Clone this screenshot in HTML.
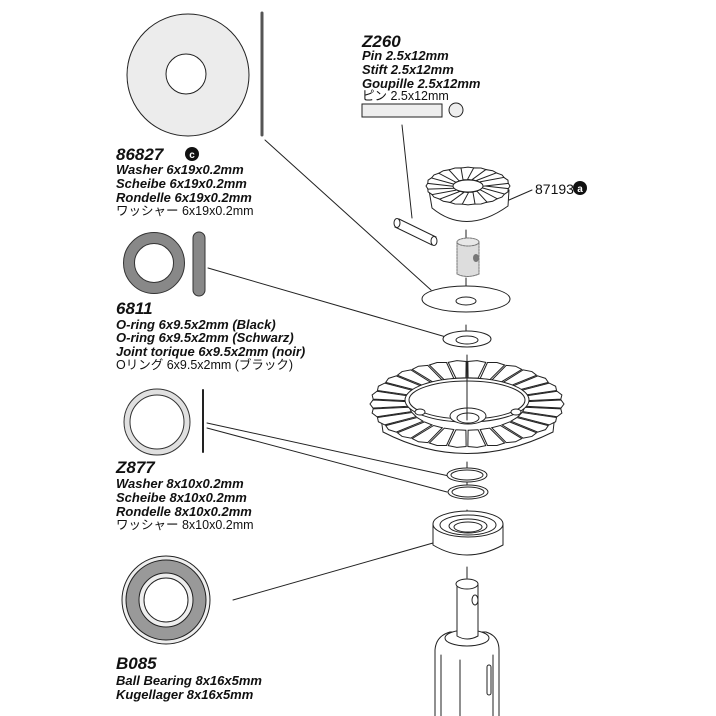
<!DOCTYPE html>
<html><head><meta charset="utf-8"><style>
html,body{margin:0;padding:0;background:#fff;width:716px;height:716px;overflow:hidden}
svg{display:block}
.t{font-family:"Liberation Sans","Noto Sans CJK JP",sans-serif;font-weight:bold;font-style:italic;font-size:13px;fill:#111}
.h{font-family:"Liberation Sans",sans-serif;font-weight:bold;font-style:italic;font-size:17px;fill:#111}
.j{font-family:"Liberation Sans","Noto Sans CJK JP",sans-serif;font-size:12.5px;fill:#111}
</style></head><body>
<svg width="716" height="716" viewBox="0 0 716 716" xmlns="http://www.w3.org/2000/svg" xmlns:xlink="http://www.w3.org/1999/xlink" stroke-linecap="round">
<defs>
<polygon id="bt" points="58,-5 94,-9 97,0 94,9 58,5" fill="#fff" stroke="#222" vector-effect="non-scaling-stroke"/>
<polygon id="st" points="14,-5 40,-7 42,0 40,7 14,5" fill="#fff" stroke="#222" vector-effect="non-scaling-stroke"/>
</defs>
<circle cx="188" cy="75" r="61" fill="#ececec" stroke="#222" stroke-width="1"/>
<circle cx="186" cy="74" r="20" fill="#fff" stroke="#222" stroke-width="1"/>
<line x1="262" y1="13" x2="262" y2="135" stroke="#555" stroke-width="3"/>
<text class="h" x="116" y="160">86827</text>
<circle cx="192" cy="154" r="7" fill="#111"/><text x="192" y="158" text-anchor="middle" font-family="Liberation Sans" font-weight="bold" font-size="10" fill="#fff">c</text>
<text class="t" x="116" y="174">Washer 6x19x0.2mm</text>
<text class="t" x="116" y="188">Scheibe 6x19x0.2mm</text>
<text class="t" x="116" y="202">Rondelle 6x19x0.2mm</text>
<text class="j" x="116" y="215">ワッシャー 6x19x0.2mm</text>
<circle cx="154" cy="263" r="25" fill="none" stroke="#888" stroke-width="11"/>
<circle cx="154" cy="263" r="30.5" fill="none" stroke="#333" stroke-width="1"/>
<circle cx="154" cy="263" r="19.5" fill="none" stroke="#333" stroke-width="1"/>
<rect x="193" y="232" width="12" height="64" rx="6" fill="#888" stroke="#333"/>
<text class="h" x="116" y="314">6811</text>
<text class="t" x="116" y="329">O-ring 6x9.5x2mm (Black)</text>
<text class="t" x="116" y="342">O-ring 6x9.5x2mm (Schwarz)</text>
<text class="t" x="116" y="356">Joint torique 6x9.5x2mm (noir)</text>
<text class="j" x="116" y="369">Oリング 6x9.5x2mm (ブラック)</text>
<circle cx="157" cy="422" r="30" fill="none" stroke="#e0e0e0" stroke-width="6"/>
<circle cx="157" cy="422" r="33" fill="none" stroke="#333" stroke-width="1"/>
<circle cx="157" cy="422" r="27" fill="none" stroke="#333" stroke-width="1"/>
<line x1="203" y1="390" x2="203" y2="452" stroke="#222" stroke-width="2"/>
<text class="h" x="116" y="473">Z877</text>
<text class="t" x="116" y="488">Washer 8x10x0.2mm</text>
<text class="t" x="116" y="502">Scheibe 8x10x0.2mm</text>
<text class="t" x="116" y="516">Rondelle 8x10x0.2mm</text>
<text class="j" x="116" y="529">ワッシャー 8x10x0.2mm</text>
<circle cx="166" cy="600" r="44" fill="#eee" stroke="#222"/>
<circle cx="166" cy="600" r="40" fill="#999" stroke="#222"/>
<circle cx="166" cy="600" r="27" fill="#eee" stroke="#222"/>
<circle cx="166" cy="600" r="22" fill="#fff" stroke="#222"/>
<text class="h" x="116" y="669">B085</text>
<text class="t" x="116" y="685">Ball Bearing 8x16x5mm</text>
<text class="t" x="116" y="699">Kugellager 8x16x5mm</text>
<text class="h" x="362" y="47">Z260</text>
<text class="t" x="362" y="60">Pin 2.5x12mm</text>
<text class="t" x="362" y="74">Stift 2.5x12mm</text>
<text class="t" x="362" y="88">Goupille 2.5x12mm</text>
<text class="j" x="362" y="100">ピン 2.5x12mm</text>
<rect x="362" y="104" width="80" height="13" fill="#eee" stroke="#222"/>
<circle cx="456" cy="110" r="7" fill="#eee" stroke="#222"/>
<text class="j" x="535" y="194" style="font-size:14px">87193</text>
<circle cx="580" cy="188" r="7" fill="#111"/><text x="580" y="192" text-anchor="middle" font-family="Liberation Sans" font-weight="bold" font-size="10" fill="#fff">a</text>
<line x1="509" y1="200" x2="532" y2="190" stroke="#222"/>
<g stroke="#222" stroke-width="1" fill="none">
<line x1="265" y1="140" x2="431" y2="290"/>
<line x1="402" y1="125" x2="412" y2="218"/>
<line x1="208" y1="268" x2="446" y2="337"/>
<line x1="207" y1="423" x2="449" y2="476"/>
<line x1="207" y1="428" x2="447" y2="492"/>
<line x1="233" y1="600" x2="433" y2="543"/>
<line x1="466" y1="230" x2="466" y2="240"/>
<line x1="466" y1="278" x2="466" y2="305"/>
<line x1="466" y1="325" x2="466" y2="345"/>
<line x1="467" y1="462" x2="467" y2="498"/>
<line x1="467" y1="510" x2="467" y2="530"/>
<line x1="467" y1="567" x2="467" y2="578"/>
</g>
<g stroke="#222" fill="#fff" stroke-width="1">
<!-- small gear -->
<path d="M429,190 L432,208 Q466,236 508,206 L509,190 Z"/>
<g transform="translate(468,186) scale(1,0.45)">
<use xlink:href="#st" transform="rotate(0)"/><use xlink:href="#st" transform="rotate(18)"/><use xlink:href="#st" transform="rotate(36)"/><use xlink:href="#st" transform="rotate(54)"/><use xlink:href="#st" transform="rotate(72)"/><use xlink:href="#st" transform="rotate(90)"/><use xlink:href="#st" transform="rotate(108)"/><use xlink:href="#st" transform="rotate(126)"/><use xlink:href="#st" transform="rotate(144)"/><use xlink:href="#st" transform="rotate(162)"/><use xlink:href="#st" transform="rotate(180)"/><use xlink:href="#st" transform="rotate(198)"/><use xlink:href="#st" transform="rotate(216)"/><use xlink:href="#st" transform="rotate(234)"/><use xlink:href="#st" transform="rotate(252)"/><use xlink:href="#st" transform="rotate(270)"/><use xlink:href="#st" transform="rotate(288)"/><use xlink:href="#st" transform="rotate(306)"/><use xlink:href="#st" transform="rotate(324)"/><use xlink:href="#st" transform="rotate(342)"/>
</g>
<ellipse cx="468" cy="186" rx="15" ry="6"/>
<path d="M399,219 L436,237 L432,245 L395,227 Z"/>
<ellipse cx="434" cy="241" rx="3" ry="4.5"/>
<ellipse cx="397" cy="223" rx="3" ry="4.5"/>
<path d="M457,242 L457,274 Q467,279 479,274 L479,242 Z" fill="#ddd" stroke="#777" stroke-dasharray="2,1"/>
<ellipse cx="468" cy="242" rx="11" ry="4" fill="#e8e8e8" stroke="#777" stroke-dasharray="2,1"/>
<ellipse cx="476" cy="258" rx="3" ry="4" fill="#777" stroke="none"/>
<ellipse cx="466" cy="299" rx="44" ry="13"/>
<ellipse cx="466" cy="301" rx="10" ry="4"/>
<ellipse cx="467" cy="339" rx="24" ry="8"/>
<ellipse cx="467" cy="340" rx="11" ry="4"/>
<!-- big gear -->
<path d="M378,396 L383,432 Q466,475 553,432 L557,396 Z"/>
<g transform="translate(467,404) scale(1,0.45)">
<use xlink:href="#bt" transform="rotate(0)"/><use xlink:href="#bt" transform="rotate(12)"/><use xlink:href="#bt" transform="rotate(24)"/><use xlink:href="#bt" transform="rotate(36)"/><use xlink:href="#bt" transform="rotate(48)"/><use xlink:href="#bt" transform="rotate(60)"/><use xlink:href="#bt" transform="rotate(72)"/><use xlink:href="#bt" transform="rotate(84)"/><use xlink:href="#bt" transform="rotate(96)"/><use xlink:href="#bt" transform="rotate(108)"/><use xlink:href="#bt" transform="rotate(120)"/><use xlink:href="#bt" transform="rotate(132)"/><use xlink:href="#bt" transform="rotate(144)"/><use xlink:href="#bt" transform="rotate(156)"/><use xlink:href="#bt" transform="rotate(168)"/><use xlink:href="#bt" transform="rotate(180)"/><use xlink:href="#bt" transform="rotate(192)"/><use xlink:href="#bt" transform="rotate(204)"/><use xlink:href="#bt" transform="rotate(216)"/><use xlink:href="#bt" transform="rotate(228)"/><use xlink:href="#bt" transform="rotate(240)"/><use xlink:href="#bt" transform="rotate(252)"/><use xlink:href="#bt" transform="rotate(264)"/><use xlink:href="#bt" transform="rotate(276)"/><use xlink:href="#bt" transform="rotate(288)"/><use xlink:href="#bt" transform="rotate(300)"/><use xlink:href="#bt" transform="rotate(312)"/><use xlink:href="#bt" transform="rotate(324)"/><use xlink:href="#bt" transform="rotate(336)"/><use xlink:href="#bt" transform="rotate(348)"/>
</g>
<ellipse cx="467" cy="400" rx="62" ry="22" fill="#fff"/>
<ellipse cx="467" cy="400" rx="58" ry="19" fill="none"/>
<ellipse cx="468" cy="416" rx="18" ry="8"/>
<ellipse cx="468" cy="418" rx="11" ry="5"/>
<ellipse cx="420" cy="412" rx="5" ry="3"/>
<ellipse cx="516" cy="412" rx="5" ry="3"/>
<line x1="467" y1="355" x2="467" y2="420"/>
<ellipse cx="467" cy="475" rx="20" ry="7"/>
<ellipse cx="467" cy="475" rx="16" ry="5"/>
<ellipse cx="468" cy="492" rx="20" ry="7"/>
<ellipse cx="468" cy="492" rx="16" ry="5"/>
<path d="M433,524 L433,545 Q466,565 503,545 L503,524 Z"/>
<ellipse cx="468" cy="524" rx="35" ry="13"/>
<ellipse cx="468" cy="525" rx="28" ry="10"/>
<ellipse cx="468" cy="526" rx="19" ry="7"/>
<ellipse cx="468" cy="527" rx="14" ry="5"/>
<path d="M435,716 L435,650 Q436,636 450,632 L486,632 Q499,636 499,650 L499,716"/>
<line x1="441" y1="655" x2="441" y2="716"/><line x1="460" y1="660" x2="460" y2="716"/><line x1="493" y1="655" x2="493" y2="716"/>
<rect x="487" y="665" width="4" height="30" rx="2"/>
<ellipse cx="467" cy="638" rx="22" ry="8"/>
<path d="M457,585 L457,636 Q467,642 478,636 L478,585 Z"/>
<ellipse cx="467" cy="584" rx="11" ry="5"/>
<ellipse cx="475" cy="600" rx="3" ry="5"/>
</g>
</svg>
</body></html>
